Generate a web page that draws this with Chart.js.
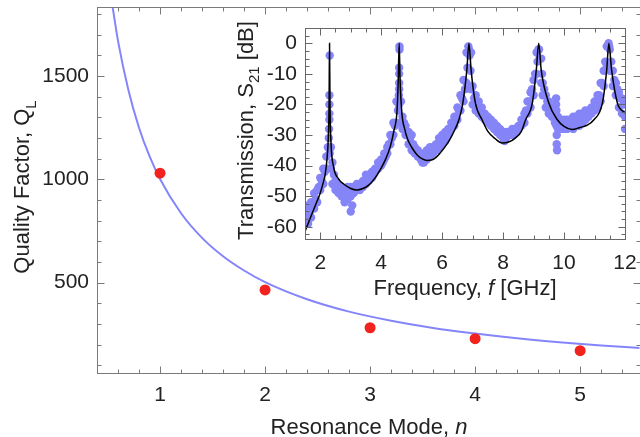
<!DOCTYPE html>
<html lang="en">

<head>
    <meta charset="UTF-8">
    <meta name="viewport" content="width=device-width, initial-scale=1.0">
    <title>Quality factor vs resonance mode</title>
    <script src="https://cdn.jsdelivr.net/npm/chart.js"></script>
    <style>
        body { margin: 0; background: #fff; overflow: hidden; }
        #wrap { position: relative; width: 640px; height: 437px; overflow: hidden; }
        #mainChart { position: absolute; left: 0; top: 0; }
        #insetChart { position: absolute; left: 225px; top: 12px; }
    </style>
</head>

<body>
    <div id="wrap">
        <canvas id="mainChart" width="645" height="437"></canvas>
        <canvas id="insetChart" width="415" height="295"></canvas>
    </div>

    <script>
        const FONT = '"Liberation Sans", Arial, sans-serif';

        // main plot: measured Q_L per mode + fitted curve
        const modes = [1, 2, 3, 4, 5];
        const qMeasured = [1030, 465, 282, 229, 171];
        const fitN = [0.55, 0.6, 0.7, 0.8, 0.9, 1.0, 1.2, 1.4, 1.6, 1.8, 2.0, 2.4, 2.8, 3.2, 3.6, 4.0, 4.4, 4.8, 5.2, 5.6];
        const fitQ = [1830, 1670, 1430, 1250, 1112, 1002, 836, 717, 628, 559, 503, 420, 360, 316, 281, 254, 231, 212, 196, 183];
        const mainXTicks = [1, 2, 3, 4, 5];
        const mainYTicks = [500, 1000, 1500];

        // inset: measured S21 (scatter) and model (line)
        const measured = [
            [1.50,-54],[1.50,-59],[1.55,-57],[1.60,-53],[1.60,-59],[1.65,-56],
            [1.70,-52],[1.70,-57],[1.75,-54],[1.80,-49],[1.80,-54],[1.85,-51],
            [1.90,-48],[1.90,-52],[1.95,-47],[2.00,-44],[2.00,-48],[2.05,-45],
            [2.10,-41],[2.10,-46],[2.15,-42],[2.20,-37],[2.20,-41],[2.25,-34],
            [2.28,-31],[2.29,-28],[2.30,-25],[2.30,-23],[2.30,-20],[2.30,-17],[2.31,-4],[2.31,-36],
            [2.35,-34],[2.35,-41],[2.40,-39],[2.40,-46],[2.45,-43],
            [2.50,-45],[2.50,-48],[2.55,-46],[2.60,-47],[2.60,-49],[2.65,-48],
            [2.70,-47],[2.70,-50],[2.75,-48],[2.80,-48],[2.80,-52],[2.85,-50],
            [2.90,-47],[2.90,-51],[2.95,-49],[3.00,-47],[3.00,-50],[3.00,-55],[3.05,-53],[3.05,-48],
            [3.10,-47],[3.10,-49],[3.15,-48],[3.20,-46],[3.20,-48],[3.25,-47],
            [3.30,-46],[3.30,-48],[3.35,-47],[3.40,-45],[3.40,-47],[3.45,-46],
            [3.50,-43],[3.50,-46],[3.55,-45],[3.60,-43],[3.60,-45],[3.65,-44],
            [3.70,-42],[3.70,-44],[3.75,-43],[3.80,-41],[3.80,-42],[3.85,-41],
            [3.90,-39],[3.90,-41],[3.95,-40],[4.00,-38],[4.00,-40],[4.05,-39],
            [4.10,-36],[4.10,-38],[4.15,-37],[4.20,-34],[4.20,-36],[4.25,-33],
            [4.30,-30],[4.30,-33],[4.35,-31],[4.40,-26],[4.40,-30],[4.45,-27],
            [4.50,-19],[4.50,-26],[4.55,-22],
            [4.58,-17],[4.59,-15],[4.59,-13],[4.59,-10],[4.59,-8],[4.60,-2],[4.60,-1],[4.58,-20],
            [4.65,-19],[4.65,-26],[4.70,-24],[4.70,-28],[4.75,-26],
            [4.80,-27],[4.80,-30],[4.85,-29],[4.90,-29],[4.90,-33],[4.95,-31],
            [5.00,-30],[5.00,-35],[5.05,-33],[5.10,-34],[5.10,-36],[5.15,-35],
            [5.20,-35],[5.20,-37],[5.25,-36],[5.30,-36],[5.30,-38],[5.35,-39],
            [5.40,-36],[5.40,-39],[5.45,-37],[5.50,-35],[5.50,-38],[5.55,-36],
            [5.60,-34],[5.60,-37],[5.65,-35],[5.70,-34],[5.70,-36],[5.75,-35],
            [5.80,-33],[5.80,-35],[5.85,-34],[5.90,-31],[5.90,-34],[5.95,-32],
            [6.00,-30],[6.00,-33],[6.05,-31],[6.10,-29],[6.10,-32],[6.15,-30],
            [6.20,-28],[6.20,-30],[6.25,-28],[6.30,-26],[6.30,-28],[6.35,-26],
            [6.40,-24],[6.40,-27],[6.45,-24],[6.50,-21],[6.50,-25],[6.55,-22],
            [6.60,-17],[6.60,-22],[6.65,-18],[6.70,-12],[6.70,-19],[6.75,-15],
            [6.80,-3],[6.80,-13],[6.83,-8],[6.86,-1],[6.88,-2],[6.90,-4],
            [6.93,-9],[6.95,-3],[6.95,-15],[7.00,-14],[7.00,-20],
            [7.05,-18],[7.10,-17],[7.10,-22],[7.15,-21],[7.20,-19],[7.20,-23],
            [7.25,-22],[7.30,-21],[7.30,-24],[7.35,-24],[7.40,-23],[7.40,-25],
            [7.45,-25],[7.50,-24],[7.50,-26],[7.55,-26],[7.60,-25],[7.60,-27],
            [7.65,-27],[7.70,-26],[7.70,-28],[7.75,-28],[7.80,-27],[7.80,-29],
            [7.85,-29],[7.90,-28],[7.90,-30],[7.95,-30],[8.00,-29],[8.00,-31],[8.05,-32],
            [8.10,-29],[8.10,-31],[8.15,-30],[8.20,-29],[8.20,-30],[8.25,-29],
            [8.30,-28],[8.30,-30],[8.35,-29],[8.40,-28],[8.40,-29],[8.45,-28],
            [8.50,-27],[8.50,-28],[8.55,-27],[8.60,-25],[8.60,-27],[8.65,-25],
            [8.70,-23],[8.70,-26],[8.75,-22],[8.80,-19],[8.80,-23],[8.85,-19],
            [8.90,-16],[8.90,-21],[8.95,-15],[9.00,-12],[9.00,-17],[9.05,-10],
            [9.10,-3],[9.10,-10],[9.13,-6],[9.16,-2],[9.18,-2],[9.20,-5],
            [9.25,-5],[9.25,-13],[9.28,-10],[9.30,-13],[9.30,-17],[9.35,-15],
            [9.40,-17],[9.40,-21],[9.45,-19],[9.50,-19],[9.50,-23],[9.55,-21],
            [9.60,-22],[9.60,-24],[9.65,-23],[9.70,-23],[9.70,-26],
            [9.74,-18],[9.74,-20],[9.75,-22],[9.75,-27],[9.76,-30],[9.76,-33],[9.77,-35],
            [9.80,-24],[9.80,-28],[9.85,-26],[9.90,-26],[9.90,-28],[9.95,-27],
            [10.00,-25],[10.00,-28],[10.05,-26],[10.10,-25],[10.10,-28],[10.15,-26],
            [10.20,-25],[10.20,-27],[10.25,-26],[10.30,-24],[10.30,-28],[10.35,-26],
            [10.40,-24],[10.40,-27],[10.45,-25],[10.50,-23],[10.50,-27],[10.55,-24],
            [10.60,-23],[10.60,-26],[10.65,-24],[10.70,-22],[10.70,-25],[10.75,-23],
            [10.80,-22],[10.80,-24],[10.85,-22],[10.90,-21],[10.90,-23],[10.95,-21],
            [11.00,-19],[11.00,-22],[11.05,-19],[11.10,-17],[11.10,-21],[11.15,-17],
            [11.20,-13],[11.20,-19],[11.25,-13],[11.30,-9],[11.30,-14],[11.35,-6],
            [11.40,-1],[11.40,-7],[11.43,-1],[11.46,0],[11.48,-1],[11.50,-2],[11.50,-9],
            [11.55,-6],[11.60,-9],[11.60,-14],[11.65,-12],[11.70,-13],[11.70,-17],
            [11.75,-15],[11.80,-16],[11.80,-21],[11.85,-18],[11.90,-18],[11.90,-23],
            [11.95,-20],[12.00,-19],[12.00,-24],[12.00,-28]
        ];
        const modelF = [1.5, 1.7, 1.9, 2.0, 2.1, 2.16, 2.22, 2.26, 2.29, 2.305, 2.32, 2.35, 2.44, 2.6, 2.77, 3.0, 3.2, 3.4, 3.6, 3.8,
            3.97, 4.15, 4.3, 4.42, 4.52, 4.56, 4.59, 4.62, 4.68, 4.77, 4.87, 5.0, 5.18, 5.35, 5.5, 5.65, 5.8, 5.94, 6.1, 6.25,
            6.38, 6.55, 6.68, 6.81, 6.88, 6.95, 7.09, 7.31, 7.5, 7.75, 7.97, 8.2, 8.4, 8.6, 8.74, 8.96, 9.09, 9.17, 9.25, 9.5,
            9.78, 10.0, 10.27, 10.5, 10.75, 10.98, 11.26, 11.4, 11.47, 11.56, 11.75, 12.0];
        const modelS = [-61.5, -56.5, -51.5, -49, -45.5, -43, -38, -32, -20, 0, -20, -32, -40.5, -44.3, -46, -47.5, -48, -47.5, -46.3, -44,
            -41.3, -37.8, -33.7, -28.5, -22, -12, 0, -12, -23, -28, -31.5, -34, -36.5, -37.8, -38.3, -38.2, -37.3, -35.8, -33.8, -31.5,
            -29, -25, -19.5, -8.7, 0, -8.7, -19.5, -25, -28.8, -31.3, -32.6, -32.2, -31, -28.8, -25, -19.5, -8.7, 0, -8.7, -19.5,
            -25, -27.2, -28.2, -27.6, -26.8, -25, -19.5, -8.7, 0, -8.7, -19.5, -22.8];
        const insetXTicks = [2, 4, 6, 8, 10, 12];
        const insetYTicks = [-60, -50, -40, -30, -20, -10, 0];

        // rich text for axis titles (italics, subscripts)
        function drawRich(ctx, parts, x, y, vertical, size) {
            ctx.save();
            ctx.translate(x, y);
            if (vertical) ctx.rotate(-Math.PI / 2);
            const fontOf = p => (p.italic ? 'italic ' : '') + (p.sub ? Math.round(size * 0.68) : size) + 'px ' + FONT;
            let w = 0;
            parts.forEach(p => { ctx.font = fontOf(p); w += ctx.measureText(p.t).width; });
            let cx = -w / 2;
            ctx.fillStyle = '#222';
            ctx.textBaseline = 'alphabetic';
            parts.forEach(p => {
                ctx.font = fontOf(p);
                ctx.fillText(p.t, cx, p.sub ? size * 0.3 : 0);
                cx += ctx.measureText(p.t).width;
            });
            ctx.restore();
        }

        // Mathematica-like frame: box with inward ticks on all sides
        const framePlugin = {
            id: 'frame',
            beforeDraw(chart, args, o) {
                if (!o.fill) return;
                const a = chart.chartArea;
                chart.ctx.save();
                chart.ctx.fillStyle = o.fill;
                chart.ctx.fillRect(a.left, a.top, a.right - a.left, a.bottom - a.top);
                chart.ctx.restore();
            },
            afterDraw(chart, args, o) {
                const ctx = chart.ctx;
                const a = chart.chartArea;
                const xs = chart.scales.x, ys = chart.scales.y;
                const L = Math.round(a.left) + 0.5, R = Math.round(a.right) + 0.5;
                const T = Math.round(a.top) + 0.5, B = Math.round(a.bottom) + 0.5;
                ctx.save();
                ctx.strokeStyle = o.color;
                ctx.lineWidth = 1;
                ctx.strokeRect(L, T, R - L, B - T);
                ctx.beginPath();
                for (let i = 0; ; i++) {
                    const v = o.xStart + i * o.xMinor;
                    if (v > xs.max + 1e-9) break;
                    if (v < xs.min - 1e-9) continue;
                    const px = Math.round(xs.getPixelForValue(v)) + 0.5;
                    const len = o.xMajor.some(m => Math.abs(m - v) < 1e-6) ? o.major : o.minor;
                    ctx.moveTo(px, B); ctx.lineTo(px, B - len);
                    ctx.moveTo(px, T); ctx.lineTo(px, T + len);
                }
                for (let i = 0; ; i++) {
                    const v = o.yStart + i * o.yMinor;
                    if (v > ys.max + 1e-9) break;
                    if (v < ys.min - 1e-9) continue;
                    const py = Math.round(ys.getPixelForValue(v)) + 0.5;
                    const len = o.yMajor.some(m => Math.abs(m - v) < 1e-6) ? o.major : o.minor;
                    ctx.moveTo(L, py); ctx.lineTo(L + len, py);
                    ctx.moveTo(R, py); ctx.lineTo(R - len, py);
                }
                ctx.stroke();
                ctx.restore();
                (o.titles || []).forEach(t => drawRich(ctx, t.parts, t.x, t.y, t.vertical, t.size));
            }
        };

        const tickFont = { family: FONT, size: 21 };

        function fixedAxis(size, horizontal) {
            return s => {
                if (horizontal) { s.height = size; s.paddingLeft = 0; s.paddingRight = 0; }
                else { s.width = size; s.paddingTop = 0; s.paddingBottom = 0; }
            };
        }

        const ctx = document.getElementById('mainChart');
        const mainChart = new Chart(ctx, {
            type: 'scatter',
            data: {
                datasets: [
                    {
                        data: modes.map((n, i) => ({ x: n, y: qMeasured[i] })),
                        backgroundColor: '#f2231f',
                        borderWidth: 0,
                        pointRadius: 5.5
                    },
                    {
                        data: fitN.map((n, i) => ({ x: n, y: fitQ[i] })),
                        showLine: true,
                        borderColor: '#8585fb',
                        borderWidth: 2,
                        pointRadius: 0,
                        cubicInterpolationMode: 'monotone',
                        tension: 0.4
                    }
                ]
            },
            options: {
                responsive: false,
                animation: false,
                layout: { padding: { top: 7, right: 4, left: 0, bottom: 0 } },
                plugins: {
                    legend: { display: false },
                    tooltip: { enabled: false },
                    frame: {
                        color: '#7a7a7a', major: 7, minor: 4,
                        xStart: 0.4, xMinor: 0.2, xMajor: mainXTicks,
                        yStart: 100, yMinor: 100, yMajor: mainYTicks,
                        titles: [
                            { parts: [{ t: 'Resonance Mode, ' }, { t: 'n', italic: true }], x: 369, y: 434, size: 22 },
                            { parts: [{ t: 'Quality Factor, Q' }, { t: 'L', sub: true }], x: 29, y: 187, vertical: true, size: 22 }
                        ]
                    }
                },
                scales: {
                    x: {
                        type: 'linear', min: 0.4, max: 5.565,
                        afterBuildTicks: s => { s.ticks = mainXTicks.map(v => ({ value: v })); },
                        afterFit: fixedAxis(64, true),
                        grid: { display: false, drawTicks: false },
                        border: { display: false },
                        ticks: { font: tickFont, color: '#222', padding: 10, maxRotation: 0, callback: v => String(v) }
                    },
                    y: {
                        type: 'linear', min: 63, max: 1834,
                        afterBuildTicks: s => { s.ticks = mainYTicks.map(v => ({ value: v })); },
                        afterFit: fixedAxis(97, false),
                        grid: { display: false, drawTicks: false },
                        border: { display: false },
                        ticks: { font: tickFont, color: '#222', padding: 8, callback: v => String(v) }
                    }
                }
            },
            plugins: [framePlugin]
        });

        const ctx2 = document.getElementById('insetChart');
        const insetChart = new Chart(ctx2, {
            type: 'scatter',
            data: {
                datasets: [
                    {
                        data: modelF.map((f, i) => ({ x: f, y: modelS[i] })),
                        showLine: true,
                        borderColor: '#000',
                        borderWidth: 1.5,
                        pointRadius: 0,
                        cubicInterpolationMode: 'monotone',
                        tension: 0.4,
                        order: 0
                    },
                    {
                        data: measured.map(p => ({ x: p[0], y: p[1] })),
                        backgroundColor: '#8585f8',
                        borderWidth: 0,
                        pointRadius: 4.2,
                        order: 1
                    }
                ]
            },
            options: {
                responsive: false,
                animation: false,
                layout: { padding: { top: 16, right: 15, left: 0, bottom: 0 } },
                plugins: {
                    legend: { display: false },
                    tooltip: { enabled: false },
                    frame: {
                        color: '#666', fill: '#fff', major: 7, minor: 4,
                        xStart: 1.5, xMinor: 0.5, xMajor: insetXTicks,
                        yStart: -62.5, yMinor: 2.5, yMajor: insetYTicks,
                        titles: [
                            { parts: [{ t: 'Frequency, ' }, { t: 'f', italic: true }, { t: ' [GHz]' }], x: 240, y: 282.5, size: 22 },
                            { parts: [{ t: 'Transmission, ' }, { t: 'S' }, { t: '21', sub: true }, { t: ' [dB]' }], x: 27.5, y: 118.5, vertical: true, size: 22 }
                        ]
                    }
                },
                scales: {
                    x: {
                        type: 'linear', min: 1.5, max: 12,
                        afterBuildTicks: s => { s.ticks = insetXTicks.map(v => ({ value: v })); },
                        afterFit: fixedAxis(68, true),
                        grid: { display: false, drawTicks: false },
                        border: { display: false },
                        ticks: { font: tickFont, color: '#222', padding: 12, maxRotation: 0, callback: v => String(v) }
                    },
                    y: {
                        type: 'linear', min: -64, max: 5,
                        afterBuildTicks: s => { s.ticks = insetYTicks.map(v => ({ value: v })); },
                        afterFit: fixedAxis(80, false),
                        grid: { display: false, drawTicks: false },
                        border: { display: false },
                        ticks: { font: tickFont, color: '#222', padding: 8, callback: v => String(v) }
                    }
                }
            },
            plugins: [framePlugin]
        });
    </script>
</body>

</html>
